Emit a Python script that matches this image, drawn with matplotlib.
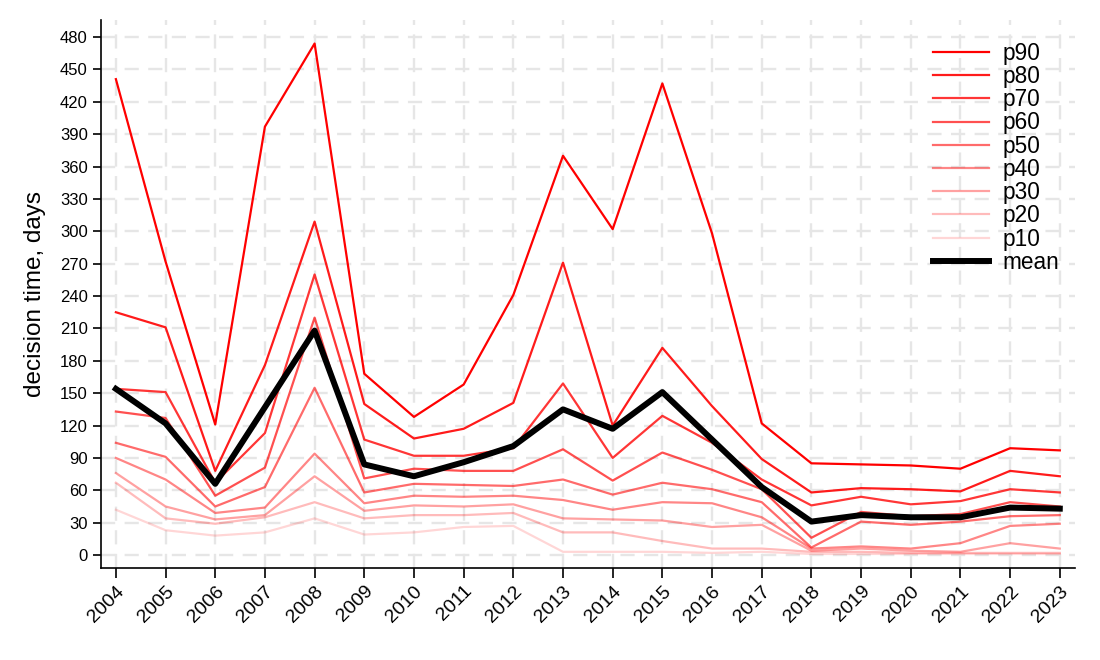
import numpy as np
import matplotlib
matplotlib.use("Agg")
import matplotlib.pyplot as plt

plt.rcParams['font.family'] = ['Liberation Sans', 'DejaVu Sans']

# data
years = list(range(2004, 2024))
p90 = [441, 272, 121, 397, 474, 168, 128, 158, 241, 370, 302, 437, 298, 122, 85, 84, 83, 80, 99, 97]
p80 = [225, 211, 78, 176, 309, 140, 108, 117, 141, 271, 120, 192, 138, 89, 58, 62, 61, 59, 78, 73]
p70 = [154, 151, 67, 113, 260, 107, 92, 92, 99, 159, 90, 129, 104, 70, 46, 54, 47, 50, 61, 58]
p60 = [133, 127, 55, 81, 220, 71, 80, 78, 78, 98, 69, 95, 79, 61, 16, 40, 36, 38, 49, 45]
p50 = [104, 91, 45, 63, 155, 58, 66, 65, 64, 70, 56, 67, 61, 49, 7, 31, 28, 31, 36, 37]
p40 = [90, 70, 39, 44, 94, 48, 55, 54, 55, 51, 42, 49, 48, 35, 6, 8, 6, 11, 27, 29]
p30 = [76, 45, 33, 37, 73, 41, 46, 45, 47, 34, 33, 32, 26, 28, 4, 6, 4, 3, 11, 6]
p20 = [67, 34, 29, 35, 49, 34, 37, 37, 39, 21, 21, 13, 6, 6, 3, 3, 2, 2, 2, 2]
p10 = [42, 23, 18, 21, 34, 19, 21, 26, 27, 3, 3, 3, 2, 3, 1, 1, 1, 1, 1, 1]
mean = [154, 122, 66, 137, 208, 84, 73, 86, 101, 135, 117, 151, 107, 63, 31, 37, 35, 35, 44, 43]

series = [("p90", p90), ("p80", p80), ("p70", p70), ("p60", p60), ("p50", p50),
          ("p40", p40), ("p30", p30), ("p20", p20), ("p10", p10)]

fig = plt.figure(figsize=(11, 6.6), dpi=100)
ax = fig.add_axes([0.0918, 0.1394, 0.8852, 0.8306])

for i, (name, vals) in enumerate(series):
    alpha = 1.0 - i * 0.105
    ax.plot(years, vals, color='red', alpha=alpha, lw=1.6, label=name)
ax.plot(years, mean, color='black', lw=4.3, label='mean')

ax.set_xlim(2003.7, 2023.3)
ax.set_ylim(-12, 496)
ax.set_yticks(np.arange(0, 481, 30))
ax.set_xticks(years)
ax.set_xticklabels([str(y) for y in years], rotation=45, ha='right', rotation_mode='anchor')
ax.tick_params(axis='both', length=6, width=1.2, direction='out')
ax.tick_params(axis='y', labelsize=12)
ax.tick_params(axis='x', labelsize=14, length=7)
ax.set_ylabel('decision time, days', fontsize=17.5, labelpad=10)

ax.grid(True, color='#e6e6e6', lw=1.7, ls=(0, (6, 4)))
ax.set_axisbelow(True)
for s in ['top', 'right']:
    ax.spines[s].set_visible(False)
for s in ['left', 'bottom']:
    ax.spines[s].set_linewidth(1.2)

leg = ax.legend(loc='upper right', frameon=False, fontsize=16.3, handlelength=2.5,
                handletextpad=0.58, labelspacing=0.01, bbox_to_anchor=(1.005, 0.997))

fig.savefig('out.png', dpi=100)
